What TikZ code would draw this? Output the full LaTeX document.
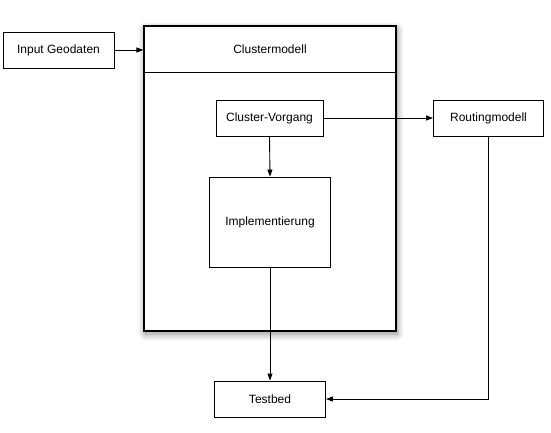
\documentclass[tikz,border=0pt]{standalone}
\usepackage{fontspec}
\setmainfont{Liberation Sans}
\usetikzlibrary{calc,shadows.blur,arrows.meta}

\begin{document}
\begin{tikzpicture}[x=1pt,y=-1pt,
                    font={\fontsize{12}{14}\selectfont},
                    box/.style={draw,line width=0.9pt,fill=white,rectangle,inner sep=0pt},
                    small/.style={box,minimum height=36pt},
                    model/.style={box,line width=1.1pt,minimum width=252pt,minimum height=305pt,
                        blur shadow={shadow xshift=1pt,shadow yshift=-3pt,shadow blur radius=7pt,
                                     shadow opacity=45,shadow blur steps=12,shadow blur extra rounding=0pt}},
                    link/.style={-{Triangle[length=7pt,width=5pt]},line width=0.9pt}]
            \useasboundingbox (0,0) rectangle (551,432);

            \node[small,minimum width=111pt] (input) at (58.5,50) {Input Geodaten};

            \node[model] (cluster) at (270,178.5) {};
            \node (title) at ($ (cluster.north) + (0,24) $) {Clustermodell};
            \draw[line width=0.9pt] ($ (cluster.north west) + (0,47) $) -- ($ (cluster.north east) + (0,47) $);

            \node[small,minimum width=107pt] (vorgang) at (269.5,118) {Cluster-Vorgang};
            \node[box,minimum width=121pt,minimum height=90pt] (impl) at (270,222) {Implementierung};

            \node[small,minimum width=110pt] (routing) at (488.5,118) {Routingmodell};
            \node[small,minimum width=111pt] (testbed) at (270,399) {Testbed};

            \draw[link] (input.east) -- (input.east -| cluster.west);
            \draw[link] (vorgang.east) -- (routing.west);
            \draw[link] (vorgang.south) -- (impl.north);
            \draw[link] (impl.south) -- (testbed.north);
            \draw[link] (routing.south) |- (testbed.east);
        \end{tikzpicture}
\end{document}
